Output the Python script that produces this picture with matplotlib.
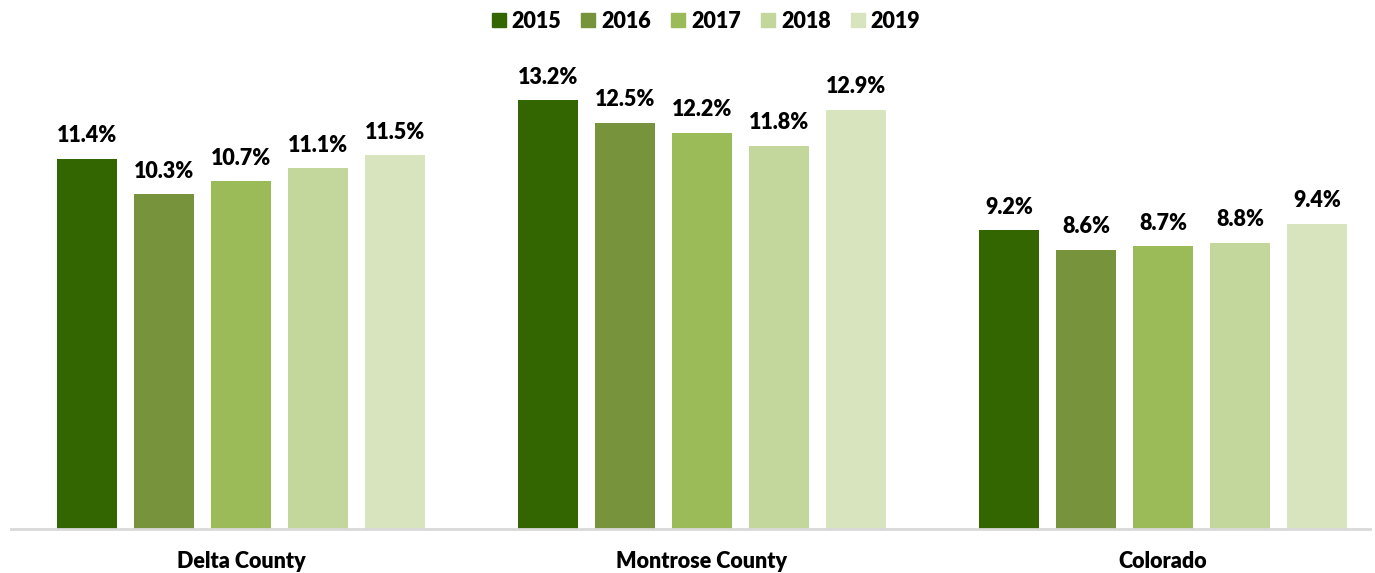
"""Grouped bar chart of yearly rates by area, 2015-2019."""

import matplotlib
matplotlib.use('Agg')
import matplotlib.pyplot as plt  # pylint: disable=wrong-import-position
import matplotlib.patches as mpatches  # pylint: disable=wrong-import-position
import numpy as np  # pylint: disable=wrong-import-position

plt.rcParams['font.family'] = ['Lato', 'DejaVu Sans']

AREAS = ["Delta County", "Montrose County", "Colorado"]
YEARS = ["2015", "2016", "2017", "2018", "2019"]
RATES = [
    [11.4, 13.2, 9.2],   # 2015
    [10.3, 12.5, 8.6],   # 2016
    [10.7, 12.2, 8.7],   # 2017
    [11.1, 11.8, 8.8],   # 2018
    [11.5, 12.9, 9.4],   # 2019
]
COLORS = ['#336600', '#77933C', '#9BBB59', '#C3D69B', '#D7E4BD']
FONT = {'size': 15.5, 'weight': 'heavy'}


def main():
    fig = plt.figure(figsize=(13.75, 5.73), dpi=100)
    ax = fig.add_axes([11 / 1375, 1 - 529 / 573, 1359 / 1375, 520 / 573])

    x = np.arange(len(AREAS))
    pitch = 0.167
    width = 0.132
    for i, (year, vals) in enumerate(zip(YEARS, RATES)):
        pos = x + (i - 2) * pitch
        bars = ax.bar(pos, vals, width=width, color=COLORS[i], label=year, zorder=2)
        for bar, v in zip(bars, vals):
            ax.annotate(f"{v:.1f}%", (bar.get_x() + bar.get_width() / 2, v),
                        textcoords="offset points", xytext=(0, 9),
                        ha='center', va='bottom', **FONT)

    ax.set_xlim(-0.499, 2.449)
    ax.set_ylim(0, 16)
    ax.set_yticks([])
    ax.set_xticks(x)
    ax.set_xticklabels(AREAS, fontdict=FONT)
    ax.tick_params(axis='x', length=0, pad=16)
    for side in ('top', 'right', 'left'):
        ax.spines[side].set_visible(False)
    ax.spines['bottom'].set_color('#D9D9D9')
    ax.spines['bottom'].set_linewidth(2)

    handles = [mpatches.Patch(color=c, label=y) for c, y in zip(COLORS, YEARS)]
    fig.legend(handles=handles, loc='center', bbox_to_anchor=(706 / 1375, 1 - 21 / 573),
               ncol=5, frameon=False, prop=FONT,
               handlelength=0.65, handleheight=0.65, handletextpad=0.28, columnspacing=0.93)

    fig.savefig("out.png", dpi=100)
    plt.close(fig)


if __name__ == "__main__":
    main()
